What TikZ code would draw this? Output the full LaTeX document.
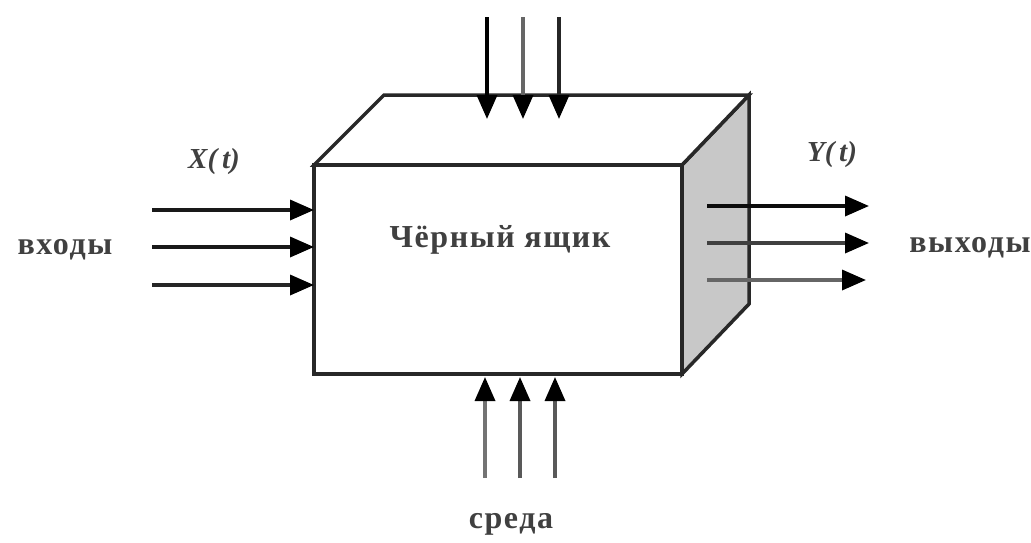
\documentclass[tikz,border=0pt]{standalone}
\usepackage{fontspec}
\setmainfont{Liberation Serif}
\usetikzlibrary{arrows.meta}
\definecolor{edge}{RGB}{40,40,40}
\definecolor{sidegray}{RGB}{200,200,200}
\tikzset{
  boxline/.style={draw=edge, line width=3.5pt, line join=miter},
  flow/.style={line width=3.5pt, -{Triangle[length=24pt,width=20pt,color=black]}},
  lbl/.style={font=\fontsize{32}{36}\selectfont\bfseries\addfontfeatures{LetterSpace=5}, text=black!75, inner sep=0pt},
  var/.style={font=\fontsize{29}{32}\selectfont\bfseries\itshape, text=black!75, inner sep=0pt},
}
\begin{document}
\begin{tikzpicture}[x=1pt,y=-1pt]
\useasboundingbox (0,0) rectangle (1031,542);
% box corners
\coordinate (FTL) at (314,165);
\coordinate (FTR) at (682,165);
\coordinate (FBR) at (682,374);
\coordinate (FBL) at (314,374);
\coordinate (BTL) at (384,95);
\coordinate (BTR) at (749,95);
\coordinate (BBR) at (749,304);
% faces
\path[boxline, fill=sidegray] (FTR) -- (BTR) -- (BBR) -- (FBR) -- cycle;
\path[boxline, fill=white] (FTL) -- (BTL) -- (BTR) -- (FTR) -- cycle;
\path[boxline, fill=white] (FTL) -- (FTR) -- (FBR) -- (FBL) -- cycle;
% labels
\node[lbl] (bb) at (500,240) {Чёрный ящик};
\node[lbl] (in) at (65,250) {входы};
\node[lbl] (out) at (970,248) {выходы};
\node[lbl] (env) at (511,524) {среда};
\node[var] (X) at (214,162) {X(\,t)};
\node[var] (Y) at (832,155) {Y(\,t)};
% top arrows
\coordinate (t1s) at (487,17); \coordinate (t1e) at (487,119);
\coordinate (t2s) at (523,17); \coordinate (t2e) at (523,119);
\coordinate (t3s) at (559,17); \coordinate (t3e) at (559,119);
\draw[flow, draw=black] (t1s) -- (t1e);
\draw[flow, draw=black!60] (t2s) -- (t2e);
\draw[flow, draw=black!85] (t3s) -- (t3e);
% left arrows
\coordinate (l1s) at (152,210); \coordinate (l1e) at (314,210);
\coordinate (l2s) at (152,247); \coordinate (l2e) at (314,247);
\coordinate (l3s) at (152,285); \coordinate (l3e) at (314,285);
\draw[flow, draw=black!90] (l1s) -- (l1e);
\draw[flow, draw=black!90] (l2s) -- (l2e);
\draw[flow, draw=black!85] (l3s) -- (l3e);
% right arrows
\coordinate (r1s) at (707,206); \coordinate (r1e) at (869,206);
\coordinate (r2s) at (707,243); \coordinate (r2e) at (869,243);
\coordinate (r3s) at (707,280); \coordinate (r3e) at (866,280);
\draw[flow, draw=black!95] (r1s) -- (r1e);
\draw[flow, draw=black!75] (r2s) -- (r2e);
\draw[flow, draw=black!60] (r3s) -- (r3e);
% bottom arrows
\coordinate (b1s) at (485,478); \coordinate (b1e) at (485,377);
\coordinate (b2s) at (520,478); \coordinate (b2e) at (520,377);
\coordinate (b3s) at (555,478); \coordinate (b3e) at (555,377);
\draw[flow, draw=black!55] (b1s) -- (b1e);
\draw[flow, draw=black!65] (b2s) -- (b2e);
\draw[flow, draw=black!65] (b3s) -- (b3e);
\end{tikzpicture}
\end{document}
